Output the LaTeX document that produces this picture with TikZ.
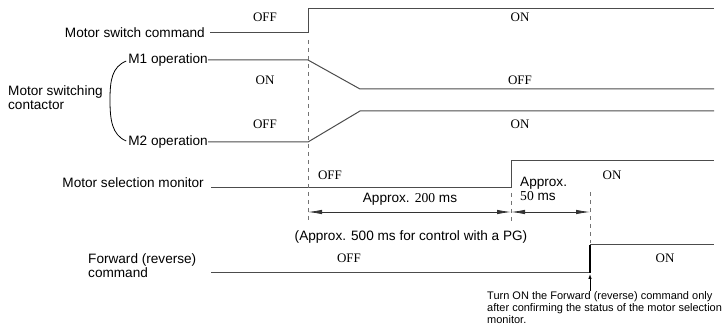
\documentclass[tikz,border=0pt]{standalone}
\usepackage{fontspec}
\setmainfont{Liberation Sans}
\newfontfamily\statefont{Liberation Serif}
\usetikzlibrary{arrows.meta}

\begin{document}
\begin{tikzpicture}[
    x=1pt, y=-1pt,
    signal/.style={draw=black!70, line width=1pt},
    guide/.style={draw=black!55, line width=0.9pt, dash pattern=on 4pt off 4pt},
    sigtext/.style={font=\fontsize{13.6}{14}\selectfont, inner sep=0pt, align=left},
    statetext/.style={font=\statefont\fontsize{13}{14}\selectfont, inner sep=0pt},
    note/.style={font=\fontsize{11}{12.3}\selectfont, inner sep=0pt, align=left},
    timespan/.style={{Latex[length=14pt,width=4.5pt]}-{Latex[length=14pt,width=4.5pt]}, line width=0.8pt, black!80}
]
\useasboundingbox (0,0) rectangle (726,331);

% signal names
\node[sigtext, anchor=east] (swcmd) at (205,33) {Motor switch command};
\node[sigtext, anchor=east] (m1op) at (208,60) {M1 operation};
\node[sigtext, anchor=east] (m2op) at (208,142) {M2 operation};
\node[sigtext, anchor=west] (contactor) at (8,98) {Motor switching\\contactor};
\node[sigtext, anchor=east] (selmon) at (204,183) {Motor selection monitor};
\node[sigtext, anchor=west] (frcmd) at (88,266) {Forward (reverse)\\command};

% bracket round M1 / M2
\draw[line width=0.8pt] (m1op.west) ++(-2,1) .. controls (112,67) and (110,80) .. (110,100)
      .. controls (110,120) and (112,135) .. ([xshift=-2pt,yshift=1pt]m2op.west);

% time marks
\coordinate (a0) at (308,212);
\coordinate (a1) at (511,212);
\coordinate (a2) at (590,212);

% waveforms
\draw[signal] (210,33) -- (308,33) -- (308,9) -- (714,9);
\draw[signal] (m1op.east) -- (308,60) -- (360,89) -- (714,89);
\draw[signal] (m2op.east) -- (308,142) -- (360,111) -- (714,111);
\draw[signal] (211,188) -- (511,188) -- (511,161) -- (714,161);
\draw[signal] (211,273) -- (590,273);
\draw[signal, draw=black, line width=1.2pt] (590,273) -- (590,245);
\draw[signal] (590,245) -- (714,245);

% dashed guides
\draw[guide] (308,40) -- (308,221);
\draw[guide] (511,193) -- (511,222);
\draw[guide] (590,192) -- (590,243);

% states
\node[statetext] (s1a) at (265,17) {OFF};
\node[statetext] (s1b) at (520,17) {ON};
\node[statetext] (s2a) at (265,80) {ON};
\node[statetext] (s2b) at (520,80) {OFF};
\node[statetext] (s3a) at (265,124) {OFF};
\node[statetext] (s3b) at (520,124) {ON};
\node[statetext] (s4a) at (330,175) {OFF};
\node[statetext] (s4b) at (612,175) {ON};
\node[statetext] (s5a) at (349,258) {OFF};
\node[statetext] (s5b) at (665,258) {ON};

% delays
\draw[timespan] (a0) -- (a1);
\draw[timespan] (a1) -- (a2);
\node[sigtext] (d200) at (410,199) {Approx. {\statefont 200} ms};
\node[sigtext, anchor=west] (d50) at (520,189) {Approx.\\{\statefont 50} ms};
\node[sigtext] (dpg) at (411,237) {(Approx. 500 ms for control with a PG)};

% note
\node[note, anchor=north west] (confirm) at (487,291)
    {Turn ON the Forward (reverse) command only\\after confirming the status of the motor selection\\monitor.};
\coordinate (frstep) at (590,274);
\draw[-{Latex[length=5pt,width=3.5pt]}, line width=0.8pt] (confirm.north -| frstep) -- (frstep);
\end{tikzpicture}
\end{document}
